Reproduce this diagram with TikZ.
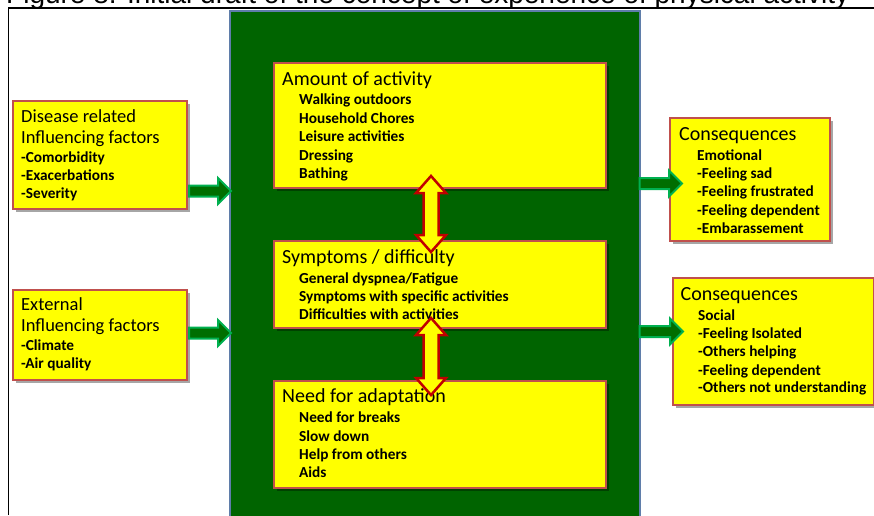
\documentclass[tikz,border=0pt]{standalone}
\usepackage{fontspec}
\setmainfont{Carlito}
\newfontfamily\capfont{Liberation Sans}
\usetikzlibrary{calc,shadows}

\definecolor{panelgreen}{RGB}{0,100,0}
\definecolor{paneledge}{RGB}{95,125,170}
\definecolor{boxfill}{RGB}{255,255,0}
\definecolor{boxedge}{RGB}{192,80,77}
\definecolor{dbledge}{RGB}{192,0,0}
\definecolor{arrowfill}{RGB}{0,110,0}
\definecolor{arrowedge}{RGB}{0,176,80}

% text helpers
\newcommand{\ttl}{\fontsize{20}{20}\selectfont}
\newcommand{\ttls}{\fontsize{18.5}{18.5}\selectfont}
\newcommand{\itm}{\fontsize{15.3}{15.3}\selectfont\bfseries}
\newcommand{\boxrow}[2]{\baselineskip=#1\relax\hbox{#2}}

% yellow double arrow between two tip coordinates (top, bottom)
\newcommand{\dblarrow}[2]{%
  \draw[dbl] (#1) -- ($(#1)+(15,17)$) -- ($(#1)+(7.5,17)$) -- ($(#2)+(7.5,-17)$)
    -- ($(#2)+(15,-17)$) -- (#2) -- ($(#2)+(-15,-17)$) -- ($(#2)+(-7.5,-17)$)
    -- ($(#1)+(-7.5,17)$) -- ($(#1)+(-15,17)$) -- cycle;}
% green block arrow from a start coordinate to a tip coordinate (pointing right)
\newcommand{\fatarrow}[2]{%
  \draw[garrow] ($(#1)+(0,-5.5)$) -- ($(#2)+(-13,-5.5)$) -- ($(#2)+(-13,-13)$)
    -- (#2) -- ($(#2)+(-13,13)$) -- ($(#2)+(-13,5.5)$) -- ($(#1)+(0,5.5)$) -- cycle;}

\tikzset{
  ybox/.style={draw=boxedge, fill=boxfill, line width=2pt, anchor=north west,
    inner sep=0pt, drop shadow={shadow xshift=2.5pt, shadow yshift=-2.5pt,
    fill=black, opacity=0.35}},
  txt/.style={anchor=base west, inner sep=0pt, text=black},
  dbl/.style={draw=dbledge, fill=boxfill, line width=2.5pt, line join=miter},
  garrow/.style={draw=arrowedge, fill=arrowfill, line width=2pt, line join=miter},
}

\begin{document}
\begin{tikzpicture}[x=1pt, y=-1pt]
\useasboundingbox (0,0) rectangle (874,515);
\clip (0,0) rectangle (874,515);

% caption running above the frame
\node[anchor=base west, inner sep=0pt] (caption) at (6,3.5)
  {\capfont\fontsize{28}{28}\selectfont Figure 8: Initial draft of the concept of experience of physical activity};

% frame
\draw[line width=1.6pt] (8.5,515) -- (8.5,8) -- (874,8);

% central panel
\node[draw=paneledge, fill=panelgreen, line width=1.5pt, anchor=north west,
  minimum width=410pt, minimum height=530pt, inner sep=0pt] (panel) at (229,10) {};

% boxes
\node[ybox, minimum width=174pt, minimum height=108pt] (left1) at (12,100) {};
\node[ybox, minimum width=174pt, minimum height=90pt] (left2) at (12,289) {};
\node[ybox, minimum width=332pt, minimum height=125pt] (amount) at (273,62) {};
\node[ybox, minimum width=332pt, minimum height=87pt] (symptoms) at (273,240) {};
\node[ybox, minimum width=332pt, minimum height=107pt] (need) at (273,380) {};
\node[ybox, minimum width=160pt, minimum height=123pt] (right1) at (669,117) {};
\node[ybox, minimum width=201pt, minimum height=127pt] (right2) at (672,277) {};

% box texts
\node[txt] (left1T) at ($(left1.north west)+(9,22)$) {\vtop{%
  \boxrow{0pt}{\ttls Disease related}
  \boxrow{21pt}{\ttls Influencing factors}
  \boxrow{19.5pt}{\itm -Comorbidity}
  \boxrow{18pt}{\itm -Exacerbations}
  \boxrow{18pt}{\itm -Severity}}};
\node[txt] (left2T) at ($(left2.north west)+(9,21)$) {\vtop{%
  \boxrow{0pt}{\ttls External}
  \boxrow{21.5pt}{\ttls Influencing factors}
  \boxrow{19pt}{\itm -Climate}
  \boxrow{17.8pt}{\itm -Air quality}}};
\node[txt] (amountT) at ($(amount.north west)+(9,23.5)$) {\vtop{%
  \boxrow{0pt}{\ttl Amount of activity}
  \boxrow{19.3pt}{\itm\kern17pt Walking outdoors}
  \boxrow{18.6pt}{\itm\kern17pt Household Chores}
  \boxrow{18.5pt}{\itm\kern17pt Leisure activities}
  \boxrow{18.5pt}{\itm\kern17pt Dressing}
  \boxrow{18.3pt}{\itm\kern17pt Bathing}}};
\node[txt] (symptomsT) at ($(symptoms.north west)+(9,23.3)$) {\vtop{%
  \boxrow{0pt}{\ttl Symptoms / difficulty}
  \boxrow{20pt}{\itm\kern17pt General dyspnea/Fatigue}
  \boxrow{18.4pt}{\itm\kern17pt Symptoms with specific activities}
  \boxrow{17.8pt}{\itm\kern17pt Difficulties with activities}}};
\node[txt] (needT) at ($(need.north west)+(9,22.7)$) {\vtop{%
  \boxrow{0pt}{\ttl Need for adaptation}
  \boxrow{20pt}{\itm\kern17pt Need for breaks}
  \boxrow{18.3pt}{\itm\kern17pt Slow down}
  \boxrow{18.3pt}{\itm\kern17pt Help from others}
  \boxrow{18pt}{\itm\kern17pt Aids}}};
\node[txt] (right1T) at ($(right1.north west)+(10,23.7)$) {\vtop{%
  \boxrow{0pt}{\ttl Consequences}
  \boxrow{19.3pt}{\itm\kern18pt Emotional}
  \boxrow{18.7pt}{\itm\kern18pt -Feeling sad}
  \boxrow{18pt}{\itm\kern18pt -Feeling frustrated}
  \boxrow{18.3pt}{\itm\kern18pt -Feeling dependent}
  \boxrow{18.3pt}{\itm\kern18pt -Embarassement}}};
\node[txt] (right2T) at ($(right2.north west)+(8.5,23.7)$) {\vtop{%
  \boxrow{0pt}{\ttl Consequences}
  \boxrow{19.3pt}{\itm\kern17.5pt Social}
  \boxrow{18.3pt}{\itm\kern17.5pt -Feeling Isolated}
  \boxrow{18.4pt}{\itm\kern17.5pt -Others helping}
  \boxrow{18.3pt}{\itm\kern17.5pt -Feeling dependent}
  \boxrow{17.7pt}{\itm\kern17.5pt -Others not understanding}}};

% double arrows linking the central boxes
\coordinate (d1top) at ($(amount.south)+(-9,-13)$);
\coordinate (d1bot) at ($(symptoms.north)+(-9,12)$);
\coordinate (d2top) at ($(symptoms.south)+(-9,-11)$);
\coordinate (d2bot) at ($(need.north)+(-9,15)$);
\dblarrow{d1top}{d1bot}
\dblarrow{d2top}{d2bot}

% green arrows into and out of the panel
\coordinate (g1a) at ($(left1.east)+(1,36)$);
\coordinate (g1b) at ($(panel.west|-g1a)+(2,0)$);
\coordinate (g2a) at ($(left2.east)+(1,-2)$);
\coordinate (g2b) at ($(panel.west|-g2a)+(2,0)$);
\coordinate (g3a) at ($(panel.east|-right1.east)+(-1,4)$);
\coordinate (g3b) at ($(right1.west|-g3a)+(13,0)$);
\coordinate (g4a) at ($(panel.east|-right2.east)+(-1,-10)$);
\coordinate (g4b) at ($(right2.west|-g4a)+(11,0)$);
\fatarrow{g1a}{g1b}
\fatarrow{g2a}{g2b}
\fatarrow{g3a}{g3b}
\fatarrow{g4a}{g4b}
\end{tikzpicture}
\end{document}
